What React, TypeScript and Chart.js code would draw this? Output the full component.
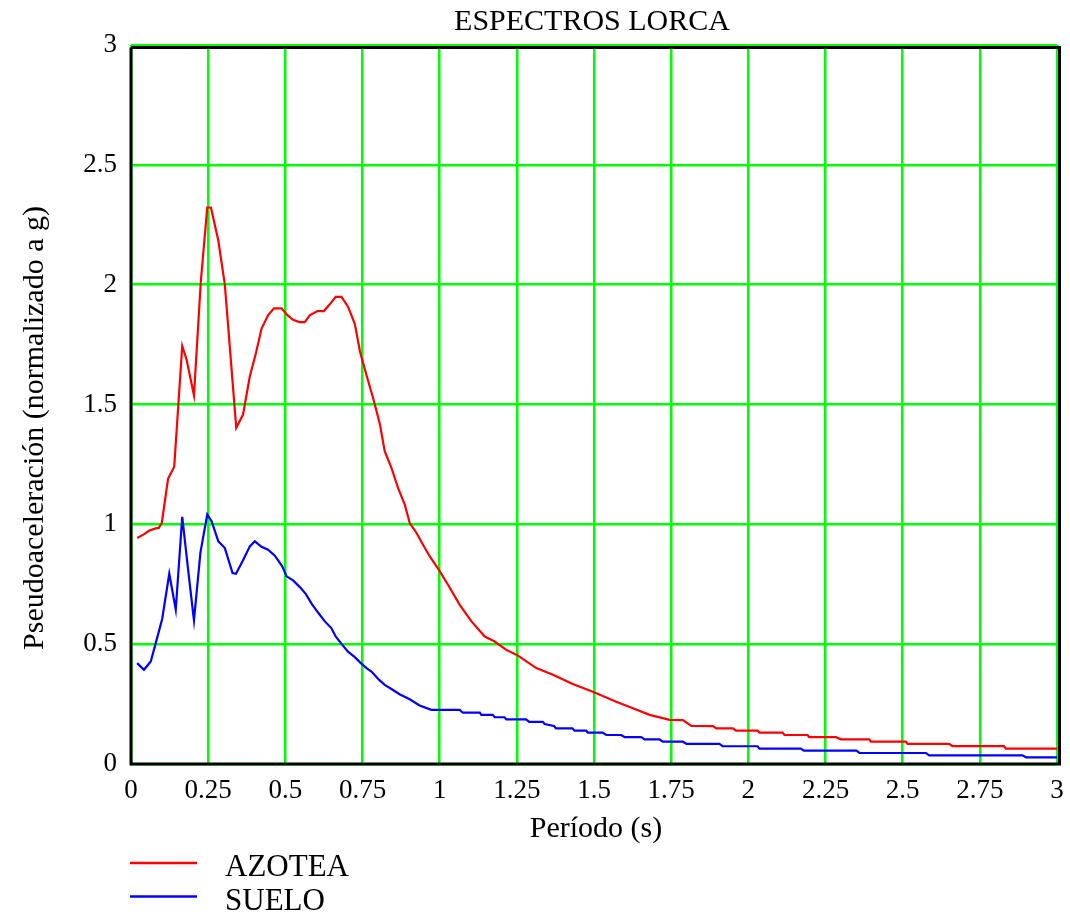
import React, { useEffect, useRef } from "react";
import { Chart, registerables } from "chart.js";

Chart.register(...registerables);

// Periodos (s) y pseudoaceleración normalizada (g) — registro en azotea
const periodosAzotea = [
  0.02, 0.04, 0.06, 0.08, 0.09, 0.1, 0.12, 0.14, 0.166, 0.18, 0.204, 0.226, 0.247, 0.259,
  0.283, 0.304, 0.341, 0.363, 0.385, 0.405, 0.423, 0.444, 0.463, 0.488, 0.504, 0.525,
  0.545, 0.563, 0.579, 0.604, 0.625, 0.644, 0.663, 0.682, 0.703, 0.725, 0.742, 0.763,
  0.784, 0.806, 0.822, 0.844, 0.865, 0.887, 0.903, 0.925, 0.946, 0.968, 0.997, 1.027,
  1.065, 1.103, 1.146, 1.178, 1.216, 1.25, 1.313, 1.367, 1.431, 1.498, 1.572, 1.626,
  1.68, 1.745, 1.788, 1.815, 1.886, 1.896, 1.95, 1.96, 2.03, 2.036, 2.111, 2.117, 2.192,
  2.197, 2.284, 2.3, 2.392, 2.397, 2.51, 2.516, 2.65, 2.661, 2.828, 2.834, 3.0,
];
const azotea = [
  0.943, 0.957, 0.974, 0.983, 0.985, 1.008, 1.19, 1.24, 1.744, 1.688, 1.538, 2.01, 2.322,
  2.322, 2.183, 2.0, 1.403, 1.458, 1.618, 1.716, 1.817, 1.872, 1.901, 1.901, 1.876, 1.853,
  1.844, 1.844, 1.872, 1.89, 1.89, 1.918, 1.949, 1.949, 1.908, 1.837, 1.72, 1.622, 1.528,
  1.42, 1.305, 1.235, 1.152, 1.082, 1.005, 0.964, 0.915, 0.866, 0.811, 0.748, 0.664,
  0.595, 0.532, 0.511, 0.476, 0.455, 0.4, 0.372, 0.334, 0.3, 0.26, 0.233, 0.205, 0.184,
  0.183, 0.159, 0.158, 0.149, 0.149, 0.139, 0.139, 0.131, 0.131, 0.121, 0.121, 0.112,
  0.112, 0.103, 0.103, 0.093, 0.093, 0.084, 0.084, 0.075, 0.075, 0.064, 0.064,
];

// Periodos (s) y pseudoaceleración normalizada (g) — registro en suelo
const periodosSuelo = [
  0.02, 0.042, 0.064, 0.083, 0.101, 0.124, 0.145, 0.166, 0.185, 0.204, 0.225, 0.247, 0.261,
  0.283, 0.304, 0.329, 0.34, 0.361, 0.385, 0.401, 0.423, 0.444, 0.466, 0.49, 0.504, 0.525,
  0.547, 0.566, 0.585, 0.606, 0.628, 0.649, 0.663, 0.682, 0.703, 0.725, 0.743, 0.763,
  0.779, 0.804, 0.822, 0.845, 0.87, 0.903, 0.935, 0.973, 1.065, 1.075, 1.13, 1.135, 1.172,
  1.178, 1.21, 1.216, 1.28, 1.29, 1.334, 1.34, 1.37, 1.377, 1.43, 1.437, 1.475, 1.48, 1.528,
  1.54, 1.588, 1.6, 1.653, 1.664, 1.712, 1.723, 1.788, 1.8, 1.906, 1.917, 2.03, 2.036, 2.17,
  2.18, 2.35, 2.36, 2.575, 2.586, 2.888, 2.9, 3.0,
];
const suelo = [
  0.421, 0.393, 0.428, 0.518, 0.605, 0.794, 0.644, 1.031, 0.811, 0.599, 0.883, 1.041, 1.013,
  0.929, 0.901, 0.797, 0.794, 0.845, 0.908, 0.929, 0.906, 0.894, 0.869, 0.825, 0.783, 0.766,
  0.738, 0.71, 0.669, 0.632, 0.595, 0.567, 0.532, 0.501, 0.469, 0.446, 0.423, 0.4, 0.386,
  0.351, 0.33, 0.312, 0.291, 0.27, 0.244, 0.226, 0.226, 0.214, 0.214, 0.205, 0.205, 0.195,
  0.195, 0.186, 0.186, 0.176, 0.176, 0.167, 0.159, 0.149, 0.149, 0.139, 0.139, 0.131, 0.131,
  0.121, 0.121, 0.112, 0.112, 0.103, 0.103, 0.093, 0.093, 0.084, 0.084, 0.074, 0.074, 0.064,
  0.064, 0.056, 0.056, 0.046, 0.046, 0.036, 0.036, 0.028, 0.028,
];

const xTicks = [0, 0.25, 0.5, 0.75, 1, 1.25, 1.5, 1.75, 2, 2.25, 2.5, 2.75, 3];
const yTicks = [0, 0.5, 1, 1.5, 2, 2.5, 3];

const TITLE = "ESPECTROS LORCA";
const X_TITLE = "Período (s)";
const Y_TITLE = "Pseudoaceleración (normalizado a g)";
const SERIES = [
  { label: "AZOTEA", color: "#ff0000" },
  { label: "SUELO", color: "#0000ff" },
];

const SERIF = "'Liberation Serif', 'Times New Roman', serif";
const GREEN = "#00ff00";

const fmt = (v: number) => String(Math.round(v * 100) / 100);

const decorations = {
  id: "decorations",
  beforeDatasetsDraw(chart: any) {
    const { ctx, chartArea: a } = chart;
    ctx.save();
    ctx.strokeStyle = "#000";
    ctx.lineWidth = 3;
    ctx.beginPath();
    ctx.moveTo(a.left, a.top + 2.5);
    ctx.lineTo(a.left, a.bottom);
    ctx.lineTo(a.right + 2.5, a.bottom);
    ctx.lineTo(a.right + 2.5, a.top + 2.5);
    ctx.lineTo(a.left, a.top + 2.5);
    ctx.stroke();
    ctx.restore();
  },
  afterDraw(chart: any) {
    const { ctx } = chart;
    ctx.save();
    ctx.fillStyle = "#000";
    ctx.textBaseline = "alphabetic";

    ctx.font = `30px ${SERIF}`;
    ctx.textAlign = "center";
    ctx.fillText(TITLE, 592, 30);

    ctx.font = `30px ${SERIF}`;
    ctx.fillText(X_TITLE, 596, 837);

    ctx.save();
    ctx.translate(43, 428);
    ctx.rotate(-Math.PI / 2);
    ctx.font = `30px ${SERIF}`;
    ctx.fillText(Y_TITLE, 0, 0);
    ctx.restore();

    ctx.font = `31px ${SERIF}`;
    ctx.textAlign = "left";
    SERIES.forEach((s, i) => {
      const y = 863 + i * 33.5;
      ctx.strokeStyle = s.color;
      ctx.lineWidth = 2.5;
      ctx.beginPath();
      ctx.moveTo(130, y);
      ctx.lineTo(197, y);
      ctx.stroke();
      ctx.fillText(s.label, 225, y + 13);
    });
    ctx.restore();
  },
};

export default function App() {
  const canvasRef = useRef<HTMLCanvasElement | null>(null);

  useEffect(() => {
    document.body.style.margin = "0";
    document.body.style.overflow = "hidden";
    const canvas = canvasRef.current;
    if (!canvas) return;

    const toPoints = (xs: number[], ys: number[]) => xs.map((x, i) => ({ x, y: ys[i] }));

    const chart = new Chart(canvas, {
      type: "line",
      data: {
        datasets: [
          {
            label: SERIES[0].label,
            data: toPoints(periodosAzotea, azotea),
            borderColor: SERIES[0].color,
            borderWidth: 2.2,
            pointRadius: 0,
            tension: 0,
          },
          {
            label: SERIES[1].label,
            data: toPoints(periodosSuelo, suelo),
            borderColor: SERIES[1].color,
            borderWidth: 2.2,
            pointRadius: 0,
            tension: 0,
          },
        ],
      },
      options: {
        animation: false,
        responsive: false,
        devicePixelRatio: 1,
        layout: { padding: { left: 0, top: 45, right: 13, bottom: 0 } },
        plugins: {
          legend: { display: false },
          title: { display: false },
          tooltip: { enabled: false },
        },
        scales: {
          x: {
            type: "linear",
            min: 0,
            max: 3,
            afterBuildTicks: (s: any) => {
              s.ticks = xTicks.map((v) => ({ value: v }));
            },
            afterFit: (s: any) => {
              s.height = 151;
              s.paddingLeft = 0;
              s.paddingRight = 0;
            },
            grid: { color: GREEN, lineWidth: 2.5, drawTicks: false },
            border: { display: false },
            ticks: {
              color: "#000",
              font: { family: SERIF, size: 27 },
              padding: 11,
              maxRotation: 0,
              autoSkip: false,
              callback: (v: any) => fmt(Number(v)),
            },
          },
          y: {
            type: "linear",
            min: 0,
            max: 3,
            afterBuildTicks: (s: any) => {
              s.ticks = yTicks.map((v) => ({ value: v }));
            },
            afterFit: (s: any) => {
              s.width = 131;
              s.paddingTop = 0;
              s.paddingBottom = 0;
            },
            grid: { color: GREEN, lineWidth: 2.5, drawTicks: false },
            border: { display: false },
            ticks: {
              color: "#000",
              font: { family: SERIF, size: 27 },
              padding: 14,
              autoSkip: false,
              callback: (v: any) => fmt(Number(v)),
            },
          },
        },
      },
      plugins: [decorations],
    });

    return () => chart.destroy();
  }, []);

  return (
    <canvas
      ref={canvasRef}
      width={1070}
      height={915}
      style={{ display: "block", width: 1070, height: 915 }}
    />
  );
}
